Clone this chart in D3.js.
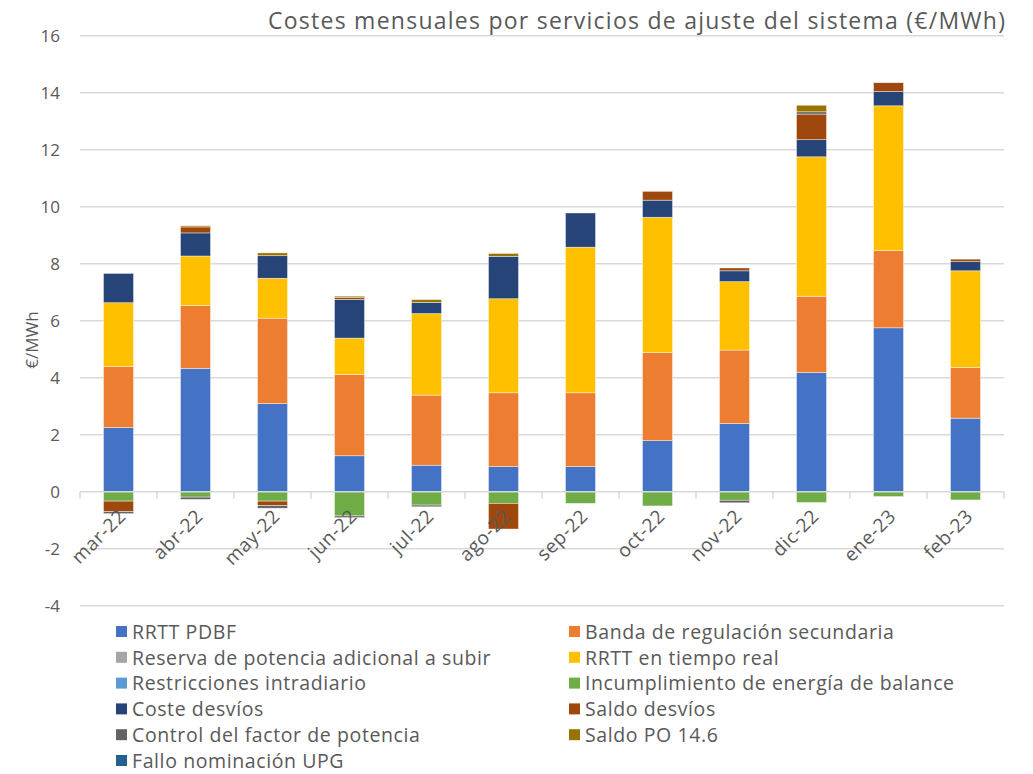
<!DOCTYPE html>
<html>
<head>
<meta charset="utf-8">
<script src="https://cdn.jsdelivr.net/npm/d3@7"></script>
<style>
	body { margin: 0; background: #fff; }
	text { font-family: "Open Sans", "Lato", sans-serif; fill: #595959; }
</style>
</head>
<body>
<svg id="chart"></svg>
<script>
// months on the x axis
var months = ["mar-22", "abr-22", "may-22", "jun-22", "jul-22", "ago-22", "sep-22", "oct-22", "nov-22", "dic-22", "ene-23", "feb-23"]

// series values (€/MWh)
var rrttPdbf       = [2.25, 4.33, 3.09, 1.26, 0.93, 0.88, 0.88, 1.79, 2.39, 4.18, 5.75, 2.58]
var banda          = [2.14, 2.20, 3.00, 2.85, 2.46, 2.59, 2.59, 3.09, 2.58, 2.68, 2.71, 1.78]
var reserva        = [0, 0, 0, 0, 0, 0, 0, 0, 0, 0, 0, 0]
var rrttTiempoReal = [2.24, 1.74, 1.40, 1.28, 2.86, 3.30, 5.11, 4.75, 2.40, 4.89, 5.08, 3.39]
var restricciones  = [0, 0, 0, 0, 0, 0, 0, 0, 0, 0, 0, 0]
var incumplimiento = [-0.33, -0.19, -0.33, -0.85, -0.47, -0.41, -0.41, -0.50, -0.30, -0.38, -0.17, -0.29]
var costeDesvios   = [1.03, 0.81, 0.79, 1.36, 0.39, 1.49, 1.20, 0.60, 0.38, 0.60, 0.50, 0.32]
var saldoDesvios   = [-0.37, 0.21, -0.16, 0.06, 0, -0.90, 0, 0.31, 0.10, 0.90, 0.31, 0.09]
var controlFactor  = [-0.07, -0.08, -0.09, -0.06, -0.06, 0, 0, 0, -0.09, 0.08, 0, 0]
var saldoPO        = [0, 0.04, 0.10, 0.05, 0.10, 0.10, 0, 0, 0, 0.23, 0, 0]
var fallo          = [0, 0, 0, 0, 0, 0, 0, 0, 0, 0, 0, 0]

var seriesNames = ["RRTT PDBF", "Banda de regulación secundaria", "Reserva de potencia adicional a subir",
	"RRTT en tiempo real", "Restricciones intradiario", "Incumplimiento de energía de balance",
	"Coste desvíos", "Saldo desvíos", "Control del factor de potencia", "Saldo PO 14.6", "Fallo nominación UPG"]
var seriesValues = [rrttPdbf, banda, reserva, rrttTiempoReal, restricciones, incumplimiento,
	costeDesvios, saldoDesvios, controlFactor, saldoPO, fallo]
var colors = ["#4472C4", "#ED7D31", "#A5A5A5", "#FFC000", "#5B9BD5", "#70AD47",
	"#264478", "#9E480E", "#636363", "#997300", "#255E91"]
var yTicks = [-4, -2, 0, 2, 4, 6, 8, 10, 12, 14, 16]

var width = 1033, height = 774
var svg = d3.select("#chart").attr("width", width).attr("height", height)

// rows for d3.stack
var rows = months.map(function (m, i) {
	var r = { month: m }
	seriesNames.forEach(function (s, j) { r[s] = seriesValues[j][i] })
	return r
})

var xScale = d3.scaleBand()
	.domain(months)
	.range([80, 1004])
	.paddingInner(0.61)
	.paddingOuter(0.305)

var yScale = d3.scaleLinear()
	.domain([-4, 16])
	.range([605.7, 35.7])

var color = d3.scaleOrdinal().domain(seriesNames).range(colors)

// gridlines
svg.append("g")
	.selectAll("line")
	.data(yTicks.filter(d => d != 0))
	.enter()
	.append("line")
	.attr("x1", 80)
	.attr("x2", 1004)
	.attr("y1", d => yScale(d))
	.attr("y2", d => yScale(d))
	.style("stroke", "#d9d9d9")
	.style("stroke-width", 1.5)

// y tick labels
svg.append("g")
	.selectAll("text")
	.data(yTicks)
	.enter()
	.append("text")
	.attr("x", 60)
	.attr("y", d => yScale(d))
	.attr("dy", "0.35em")
	.attr("text-anchor", "end")
	.style("font-size", "17px")
	.text(d => d)

// stacked bars
var stack = d3.stack()
	.keys(seriesNames)
	.offset(d3.stackOffsetDiverging)

var layers = svg.append("g")
	.selectAll("g")
	.data(stack(rows))
	.enter()
	.append("g")
	.attr("fill", d => color(d.key))

layers.selectAll("rect")
	.data(d => d.filter(p => p[1] - p[0] != 0))
	.enter()
	.append("rect")
	.attr("x", d => xScale(d.data.month))
	.attr("width", xScale.bandwidth())
	.attr("y", d => yScale(Math.max(d[0], d[1])))
	.attr("height", d => Math.abs(yScale(d[0]) - yScale(d[1])))
	.style("stroke", "#ffffff")
	.style("stroke-width", 0.6)
	.style("stroke-opacity", 0.7)

// zero axis with tick marks between categories
var zeroY = yScale(0)
svg.append("line")
	.attr("x1", 80)
	.attr("x2", 1004)
	.attr("y1", zeroY)
	.attr("y2", zeroY)
	.style("stroke", "#d9d9d9")
	.style("stroke-width", 1.5)

var step = xScale.step()
svg.append("g")
	.selectAll("line")
	.data(d3.range(months.length + 1))
	.enter()
	.append("line")
	.attr("x1", i => 80 + i * step)
	.attr("x2", i => 80 + i * step)
	.attr("y1", zeroY)
	.attr("y2", zeroY + 7)
	.style("stroke", "#d9d9d9")
	.style("stroke-width", 1.5)

// rotated month labels
svg.append("g")
	.selectAll("text")
	.data(months)
	.enter()
	.append("text")
	.attr("transform", d => "translate(" + (xScale(d) + xScale.bandwidth() / 2 + 4) + "," + (zeroY + 21) + ") rotate(-45)")
	.attr("text-anchor", "end")
	.attr("dy", "0.35em")
	.style("font-size", "19px")
	.style("letter-spacing", "0.6px")
	.text(d => d)

// y axis title
svg.append("text")
	.attr("transform", "translate(38,340) rotate(-90)")
	.attr("text-anchor", "middle")
	.style("font-size", "17px")
	.text("€/MWh")

// chart title
svg.append("text")
	.attr("x", 1005)
	.attr("y", 29)
	.attr("text-anchor", "end")
	.attr("textLength", 737)
	.attr("lengthAdjust", "spacing")
	.style("font-size", "23px")
	.text("Costes mensuales por servicios de ajuste del sistema (€/MWh)")

// legend, two columns filled row by row
var legend = svg.append("g").attr("class", "legend")
var legendItems = legend.selectAll("g")
	.data(seriesNames)
	.enter()
	.append("g")
	.attr("transform", function (d, i) {
		return "translate(" + (i % 2 == 0 ? 116 : 569) + "," + (632 + Math.floor(i / 2) * 25.8) + ")"
	})

legendItems.append("rect")
	.attr("x", 0)
	.attr("y", -6)
	.attr("width", 11)
	.attr("height", 11)
	.attr("fill", d => color(d))

legendItems.append("text")
	.attr("x", 16)
	.attr("y", 0)
	.attr("dy", "0.35em")
	.style("font-size", "19.5px")
	.style("letter-spacing", "0.6px")
	.text(d => d)
</script>
</body>
</html>
